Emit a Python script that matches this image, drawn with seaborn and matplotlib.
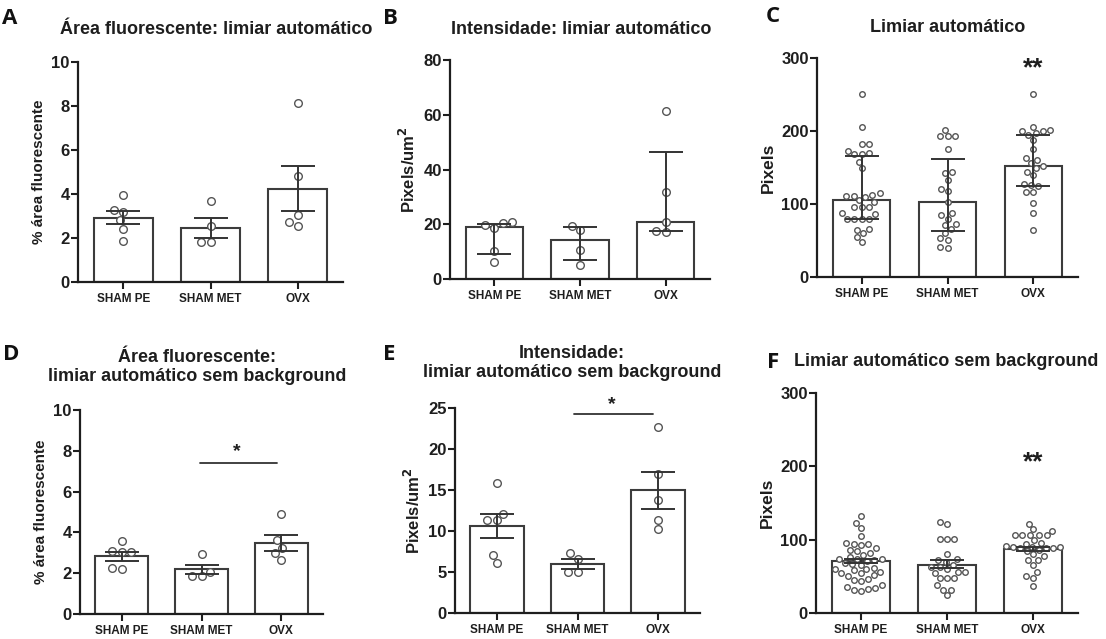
import numpy as np
import pandas as pd
import matplotlib
matplotlib.use("Agg")
import matplotlib.pyplot as plt
import seaborn as sns

# grupos
groups = ["SHAM PE", "SHAM MET", "OVX"]

# A - area fluorescente, limiar automatico (media +- EPM)
a_pe = [3.97, 3.25, 3.2, 2.8, 2.42, 1.86]
a_met = [3.68, 2.56, 1.83, 1.83]
a_ovx = [8.14, 4.8, 3.03, 2.73, 2.56]
a_bar = [2.91, 2.45, 4.24]
a_lo = [2.62, 2.02, 3.21]
a_hi = [3.23, 2.92, 5.29]

# B - intensidade, limiar automatico (mediana, IQR)
b_pe = [21.0, 20.4, 19.7, 18.7, 10.1, 6.2]
b_met = [19.5, 18.0, 10.7, 5.2]
b_ovx = [61.2, 31.7, 20.7, 17.5, 17.1]
b_bar = [19.1, 14.3, 20.7]
b_lo = [9.2, 6.8, 17.4]
b_hi = [20.2, 19.0, 46.4]

# C - limiar automatico, pixels
c_pe = [251, 206, 182, 182, 173, 170, 168, 168, 158, 149, 115, 113, 111, 111,
        110, 105, 103, 96, 96, 96, 87, 86, 80, 80, 80, 80, 66, 65, 60, 55, 48]
c_met = [202, 193, 193, 193, 176, 144, 142, 133, 121, 118, 103, 87, 85, 80,
         73, 71, 66, 60, 53, 51, 41, 40]
c_ovx = [251, 206, 202, 200, 200, 197, 194, 188, 176, 163, 160, 156, 152, 149,
         144, 140, 128, 126, 124, 117, 117, 101, 87, 65]
c_bar = [105, 103, 152]
c_lo = [80, 63, 125]
c_hi = [166, 161, 194]

# D - area fluorescente sem background
d_pe = [3.59, 3.09, 3.02, 3.02, 2.24, 2.19]
d_met = [2.94, 2.08, 1.86, 1.86]
d_ovx = [4.89, 3.63, 3.25, 2.97, 2.65]
d_bar = [2.84, 2.19, 3.46]
d_lo = [2.62, 1.96, 3.08]
d_hi = [3.05, 2.42, 3.87]

# E - intensidade sem background
e_pe = [15.8, 12.1, 11.4, 11.3, 7.1, 6.1]
e_met = [7.3, 6.6, 5.0, 5.0]
e_ovx = [22.7, 17.0, 13.8, 11.4, 10.2]
e_bar = [10.65, 5.98, 15.04]
e_lo = [9.2, 5.4, 12.7]
e_hi = [12.1, 6.6, 17.2]

# F - limiar automatico sem background, pixels
f_pe = [132, 123, 116, 105, 95, 94, 94, 93, 88, 86, 84, 82, 79, 76, 74, 74,
        73, 72, 71, 68, 67, 66, 62, 60, 60, 58, 56, 55, 54, 52, 51, 46, 45,
        44, 38, 36, 34, 33, 32, 30]
f_met = [124, 122, 101, 101, 101, 81, 74, 72, 70, 66, 63, 63, 60, 56, 56, 55,
         48, 48, 48, 38, 32, 32, 24]
f_ovx = [121, 114, 112, 106, 106, 106, 106, 106, 99, 95, 94, 92, 90, 90, 90,
         88, 88, 88, 86, 84, 80, 78, 72, 72, 65, 56, 50, 48, 37]
f_bar = [71, 66, 87]
f_lo = [68, 61, 84]
f_hi = [74, 72, 90]

sns.set_style("ticks")
plt.rcParams["font.family"] = ["Liberation Sans", "DejaVu Sans"]
plt.rcParams["font.weight"] = "bold"

W, H = 1106, 639
fig = plt.figure(figsize=(W / 100, H / 100), dpi=100)

edge = "#3c3c3c"
dark = "#1e1e1e"


def add_ax(left, top, right, bottom):
    return fig.add_axes([left / W, 1 - bottom / H, (right - left) / W, (bottom - top) / H])


def draw_panel(ax, pts, bars, lo, hi, ymax, yticks, ylabel, ysize, msize):
    df = pd.DataFrame({
        "grupo": np.repeat(groups, [len(p) for p in pts]),
        "valor": np.concatenate(pts),
    })
    bars = np.array(bars)
    sns.barplot(x=groups, y=bars, order=groups, color="white", saturation=1,
                edgecolor=edge, linewidth=1.5, width=0.67, errorbar=None, ax=ax, zorder=1)
    sns.swarmplot(data=df, x="grupo", y="valor", order=groups, color="white",
                  edgecolor="#555555", linewidth=1.0, size=msize, ax=ax, zorder=3)
    ax.errorbar(range(3), bars, yerr=[bars - np.array(lo), np.array(hi) - bars],
                fmt="none", ecolor="#333333", elinewidth=1.4, capsize=12,
                capthick=1.4, zorder=4)
    ax.set_xlim(-0.52, 2.52)
    ax.set_ylim(0, ymax)
    ax.set_yticks(yticks)
    ax.set_xlabel("")
    ax.set_ylabel(ylabel, fontsize=ysize, fontweight="bold", color=dark)
    sns.despine(ax=ax)
    for s in ["left", "bottom"]:
        ax.spines[s].set_linewidth(1.6)
        ax.spines[s].set_color(dark)
    ax.tick_params(axis="both", width=1.5, length=5, color=dark, labelcolor=dark)
    ax.tick_params(axis="y", labelsize=12, pad=1)
    ax.tick_params(axis="x", labelsize=8.5, pad=3)
    for lab in ax.get_xticklabels() + ax.get_yticklabels():
        lab.set_fontweight("bold")


axA = add_ax(78, 62, 343, 282)
draw_panel(axA, [a_pe, a_met, a_ovx], a_bar, a_lo, a_hi, 10, [0, 2, 4, 6, 8, 10],
           "% área fluorescente", 11, 5.5)

axB = add_ax(450, 60, 710, 279)
draw_panel(axB, [b_pe, b_met, b_ovx], b_bar, b_lo, b_hi, 80, [0, 20, 40, 60, 80],
           "Pixels/um$^\\mathbf{2}$", 12, 5.5)

axC = add_ax(817, 58, 1078, 277)
draw_panel(axC, [c_pe, c_met, c_ovx], c_bar, c_lo, c_hi, 300, [0, 100, 200, 300],
           "Pixels", 12.5, 4)

axD = add_ax(80, 410, 323, 614)
draw_panel(axD, [d_pe, d_met, d_ovx], d_bar, d_lo, d_hi, 10, [0, 2, 4, 6, 8, 10],
           "% área fluorescente", 11, 5.5)

axE = add_ax(455, 408, 700, 613)
draw_panel(axE, [e_pe, e_met, e_ovx], e_bar, e_lo, e_hi, 25, [0, 5, 10, 15, 20, 25],
           "Pixels/um$^\\mathbf{2}$", 12, 5.5)

axF = add_ax(816, 393, 1078, 613)
draw_panel(axF, [f_pe, f_met, f_ovx], f_bar, f_lo, f_hi, 300, [0, 100, 200, 300],
           "Pixels", 12.5, 4)

# significancia
axC.text(2, 286, "**", ha="center", va="center", fontsize=19, color=dark, clip_on=False)
axF.text(2, 205, "**", ha="center", va="center", fontsize=19, color=dark)
axD.plot([0.98, 1.95], [7.42, 7.42], color="#333333", lw=1.3)
axD.text(1.44, 7.95, "*", ha="center", va="center", fontsize=14, color=dark)
axE.plot([0.96, 1.94], [24.3, 24.3], color="#333333", lw=1.3, clip_on=False)
axE.text(1.42, 25.4, "*", ha="center", va="center", fontsize=14, color=dark, clip_on=False)

# titulos
def ftext(x, y, s, **kw):
    fig.text(x / W, 1 - y / H, s, **kw)


tkw = dict(ha="center", va="center", fontsize=13, fontweight="bold", color=dark)
ftext(216, 29, "Área fluorescente: limiar automático", **tkw)
ftext(581, 30, "Intensidade: limiar automático", **tkw)
ftext(948, 28, "Limiar automático", **tkw)
ftext(197, 367, "Área fluorescente:\nlimiar automático sem background", linespacing=1.1, **tkw)
ftext(572, 363, "Intensidade:\nlimiar automático sem background", linespacing=1.1, **tkw)
ftext(946, 361, "Limiar automático sem background", **tkw)

lkw = dict(ha="center", va="center", fontsize=16, fontweight="bold", color="#111111",
           family=["Open Sans", "DejaVu Sans"])
ftext(10, 18, "A", **lkw)
ftext(390, 19, "B", **lkw)
ftext(773, 17, "C", **lkw)
ftext(11, 355, "D", **lkw)
ftext(389, 355, "E", **lkw)
ftext(773, 362, "F", **lkw)

fig.savefig("out.png", dpi=100)
